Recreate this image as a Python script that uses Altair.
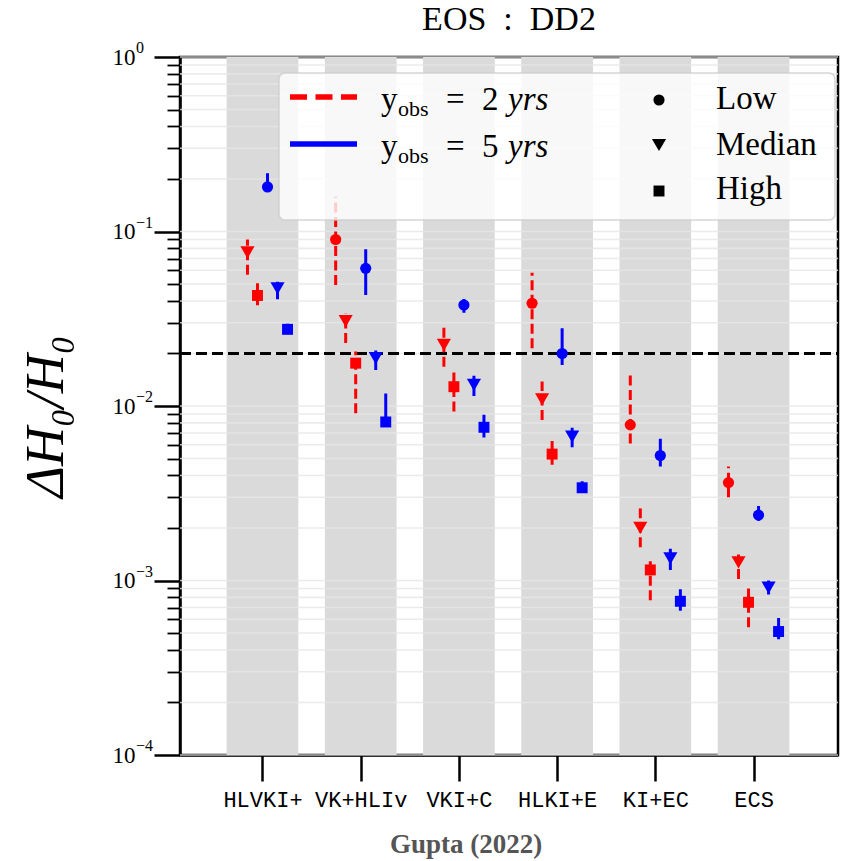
import altair as alt
import pandas as pd

# ---------------- data ----------------
categories = ["HLVKI+", "VK+HLIv", "VKI+C", "HLKI+E", "KI+EC", "ECS"]
years = ["2 yrs", "5 yrs"]
binaries = ["Low", "Median", "High"]

# y_obs = 2 yrs
low_2 = [None, 0.090, None, 0.0388, 0.0078, 0.00364]
low_2_lo = [None, 0.0494, None, 0.0214, 0.0061, 0.0030]
low_2_hi = [None, 0.158, None, 0.058, 0.0154, 0.0045]
med_2 = [0.0758, 0.0306, 0.0224, 0.0109, 0.0020, 0.00127]
med_2_lo = [0.0565, 0.0230, 0.0168, 0.0083, 0.00155, 0.00102]
med_2_hi = [0.090, 0.0338, 0.0287, 0.0138, 0.00259, 0.00143]
high_2 = [0.0430, 0.0176, 0.0129, 0.0053, 0.00115, 0.00075]
high_2_lo = [0.0378, 0.0091, 0.0093, 0.0046, 0.00077, 0.00054]
high_2_hi = [0.0506, 0.0205, 0.0163, 0.0063, 0.00132, 0.00090]

# y_obs = 5 yrs
low_5 = [0.180, 0.0615, 0.0379, 0.0200, 0.0052, 0.00237]
low_5_lo = [0.169, 0.0433, 0.0342, 0.0172, 0.0045, 0.0022]
low_5_hi = [0.216, 0.079, 0.0410, 0.0279, 0.0065, 0.00267]
med_5 = [0.0472, 0.0188, 0.0132, 0.00667, 0.00134, 0.00091]
med_5_lo = [0.0409, 0.0161, 0.0114, 0.0058, 0.00115, 0.00083]
med_5_hi = [0.0516, 0.0208, 0.0149, 0.0075, 0.00152, 0.00100]
high_5 = [0.0275, 0.0081, 0.00755, 0.0034, 0.00076, 0.00051]
high_5_lo = [0.0260, 0.0078, 0.0066, 0.0032, 0.00067, 0.00046]
high_5_hi = [0.0296, 0.0118, 0.0089, 0.0037, 0.00089, 0.00061]

REF_LEVEL = 0.02
decades = [-4, -3, -2, -1, 0]
y_tick_values = [m * 10.0 ** k for k in range(-4, 0) for m in range(1, 10)] + [1.0]

# ---------------- layout constants ----------------
W, H = 658, 698
STEP = 0.102      # spacing of the six series inside a group (category units)
BAND_HALF = 0.365

series = [
    ("2 yrs", "Low", low_2, low_2_lo, low_2_hi),
    ("2 yrs", "Median", med_2, med_2_lo, med_2_hi),
    ("2 yrs", "High", high_2, high_2_lo, high_2_hi),
    ("5 yrs", "Low", low_5, low_5_lo, low_5_hi),
    ("5 yrs", "Median", med_5, med_5_lo, med_5_hi),
    ("5 yrs", "High", high_5, high_5_lo, high_5_hi),
]
rows = []
for k, (yr, b, vals, los, his) in enumerate(series):
    for i, cat in enumerate(categories):
        if vals[i] is None:
            continue
        rows.append(dict(cat=cat, pos=i + (k - 2.5) * STEP, value=vals[i],
                         lo=los[i], hi=his[i], years=yr, binary=b))
df = pd.DataFrame(rows)

df_cat = pd.DataFrame({"idx": list(range(len(categories))), "cat": categories})
df_cat["b0"] = df_cat["idx"] - BAND_HALF
df_cat["b1"] = df_cat["idx"] + BAND_HALF
df_grid = pd.DataFrame({"v": y_tick_values})
df_dec = pd.DataFrame({"v": [10.0 ** e for e in decades],
                       "exp": [str(e).replace("-", "\u2212") for e in decades]})
one = pd.DataFrame({"a": [0]})

x_scale = alt.Scale(domain=[-0.84, 5.86], nice=False, zero=False)
y_scale = alt.Scale(type="log", domain=[1e-4, 1], nice=False)

cat_arr = "[" + ",".join("'" + c + "'" for c in categories) + "]"
x_axis = alt.Axis(values=list(range(len(categories))),
                  labelExpr=cat_arr + "[round(datum.value)]",
                  title=None, grid=False, tickSize=26, tickWidth=2.5,
                  tickColor="black", domainColor="black", domainWidth=2.5,
                  labelFont="Liberation Mono", labelFontSize=22,
                  labelColor="black", labelPadding=8, labelFlush=False)

major_test = "abs(log(datum.value)/LN10 - round(log(datum.value)/LN10)) < 0.001"
label_expr = f"({major_test}) ? '10' : ''"

y_axis = alt.Axis(values=y_tick_values, labelExpr=label_expr, labelOverlap=False,
                  grid=False,
                  tickSize={"condition": {"test": major_test, "value": 26}, "value": 13},
                  tickWidth={"condition": {"test": major_test, "value": 2.5}, "value": 1.8},
                  tickColor="black", domainColor="black", domainWidth=2.5,
                  labelFont="Liberation Serif", labelFontSize=23, labelColor="black",
                  labelPadding=19, labelBaseline="middle",
                  title="\u0394H\u2080/H\u2080", titleFont="Liberation Serif",
                  titleFontSize=54, titleFontStyle="italic", titleFontWeight="normal",
                  titleColor="black", titleX=-134, titleY=H / 2 + 10, titleAngle=270,
                  titleAlign="center", titleBaseline="middle")

bands = alt.Chart(df_cat).mark_rect(color="#dadada").encode(
    x=alt.X("b0:Q", scale=x_scale, axis=x_axis),
    x2="b1:Q",
    y=alt.value(0), y2=alt.value(H),
)

grid = alt.Chart(df_grid).mark_rule(color="#e6e6e6", strokeWidth=1.6, opacity=0.8).encode(
    y=alt.Y("v:Q", scale=y_scale, axis=y_axis),
    x=alt.value(0), x2=alt.value(W),
)

# exponents of the y tick labels (superscripts)
exps = alt.Chart(df_dec).mark_text(align="left", baseline="middle", font="Liberation Serif",
                                   fontSize=16, color="black", dy=-9).encode(
    y=alt.Y("v:Q", scale=y_scale, axis=y_axis),
    x=alt.value(-44),
    text="exp:N",
)

ref = alt.Chart(one).mark_rule(color="black", strokeWidth=3, strokeDash=[11, 5]).encode(
    y=alt.Y(datum=REF_LEVEL, scale=y_scale, axis=y_axis),
    x=alt.value(0), x2=alt.value(W),
)

color_scale = alt.Scale(domain=years, range=["#ff0000", "#0000ff"])

errs = alt.Chart(df).mark_rule(strokeWidth=3).encode(
    x=alt.X("pos:Q", scale=x_scale, axis=x_axis),
    y=alt.Y("lo:Q", scale=y_scale, axis=y_axis),
    y2="hi:Q",
    color=alt.Color("years:N", scale=color_scale, legend=None),
    strokeDash=alt.StrokeDash("years:N", scale=alt.Scale(domain=years, range=[[10, 4.5], [1, 0]]), legend=None),
)

shapes = ["circle", "triangle-down", "square"]
msizes = [125, 200, 120]
pts_layers = []
for b, shp, sz in zip(binaries, shapes, msizes):
    pts_layers.append(alt.Chart(df).transform_filter(alt.datum.binary == b).mark_point(
        filled=True, opacity=1, shape=shp, size=sz).encode(
        x=alt.X("pos:Q", scale=x_scale, axis=x_axis),
        y=alt.Y("value:Q", scale=y_scale, axis=y_axis),
        color=alt.Color("years:N", scale=color_scale, legend=None),
    ))

# ---------------- manual legend ----------------
def txt(s, x, y, size=33, style="normal", weight="normal", color="black",
        align="left", baseline="alphabetic", font="Liberation Serif"):
    return alt.Chart(one).mark_text(text=s, align=align, baseline=baseline, font=font,
                                    fontSize=size, fontStyle=style, fontWeight=weight,
                                    color=color).encode(x=alt.value(x), y=alt.value(y))

legend_box = alt.Chart(one).mark_rect(fill="white", fillOpacity=0.8, stroke="#cccccc",
                                      strokeOpacity=0.8, strokeWidth=1.5, cornerRadius=6).encode(
    x=alt.value(99), x2=alt.value(655), y=alt.value(16), y2=alt.value(163))

leg_layers = [legend_box]
line_ys = [40, 87]
base_ys = [53, 100]
dashes = [[17, 8.5], [1, 0]]
colors = ["#ff0000", "#0000ff"]
nums = ["2", "5"]
for j in range(2):
    leg_layers.append(alt.Chart(one).mark_rule(color=colors[j], strokeWidth=5.5, strokeDash=dashes[j]).encode(
        x=alt.value(110), x2=alt.value(177), y=alt.value(line_ys[j])))
    by = base_ys[j]
    leg_layers += [
        txt("y", 201, by),
        txt("obs", 218, by + 6, size=22),
        txt("=", 266, by),
        txt(nums[j], 302, by),
        txt("yrs", 328, by, style="italic"),
    ]
marker_ys = [43, 88, 134]
text_ys = [52, 98, 142]
for j in range(3):
    leg_layers.append(alt.Chart(one).mark_point(shape=shapes[j], filled=True, opacity=1,
                                                size=msizes[j], color="black").encode(
        x=alt.value(479), y=alt.value(marker_ys[j])))
    leg_layers.append(txt(binaries[j], 536, text_ys[j]))

title = txt("EOS\u2002:\u2002DD2", W / 2, -27, size=34, align="center")
caption = txt("Gupta (2022)", 286, 788, size=27, weight="bold", color="#555555",
              align="center", baseline="middle")

chart = alt.layer(bands, grid, exps, ref, errs, *pts_layers, *leg_layers, title, caption).properties(
    width=W, height=H,
    autosize=alt.AutoSizeParams(type="none"),
    padding={"left": 180, "top": 57, "right": 12, "bottom": 106},
    background="white",
).configure_view(stroke="black", strokeWidth=2.5)

chart.save("out.html", embed_options={"renderer": "svg", "actions": False})
